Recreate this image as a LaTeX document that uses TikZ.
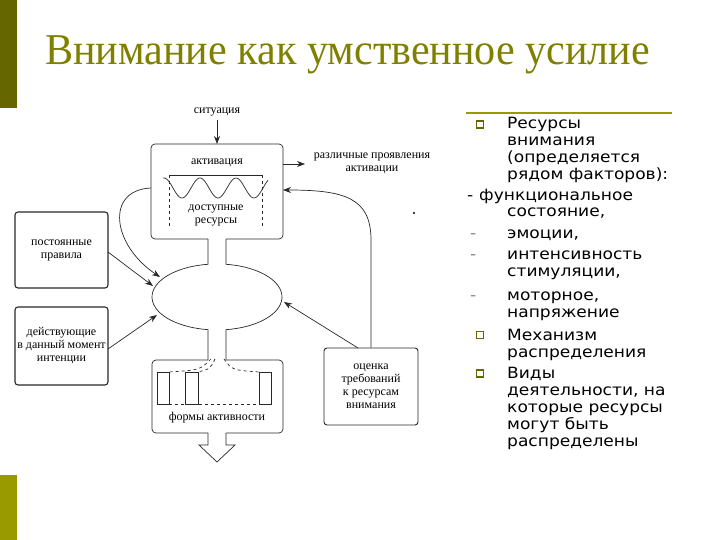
\documentclass[tikz,border=0pt]{standalone}
\usepackage{fontspec}
\setmainfont{Liberation Serif}
\newfontfamily\rfont[FakeStretch=1.1]{DejaVu Sans}
\usetikzlibrary{arrows.meta}
\definecolor{olivedark}{RGB}{102,102,0}
\definecolor{olivelight}{RGB}{153,153,0}
\definecolor{titlecol}{RGB}{128,128,0}
\definecolor{linegray}{RGB}{40,40,40}
\tikzset{
  lbl/.style={font=\fontsize{12}{13}\selectfont, align=center, inner sep=0pt},
  ln/.style={draw=linegray, line width=0.7pt},
  lbox/.style={draw=linegray, line width=1.1pt, rounded corners=3pt},
  arr/.style={draw=linegray, line width=0.7pt, -{Stealth[length=8pt,width=6pt]}},
  rt/.style={font=\rfont\fontsize{15.5}{17}\selectfont, anchor=base west, inner sep=0pt},
  bul/.style={draw=olivedark, line width=1.3pt},
  dsh/.style={font=\rfont\fontsize{15.5}{17}\selectfont, anchor=base west, inner sep=0pt, text=gray},
}
\begin{document}
\begin{tikzpicture}[x=1pt,y=-1pt]
\useasboundingbox (0,0) rectangle (720,540);
% side bars
\fill[olivedark] (0,0) rectangle (17,108);
\fill[olivelight] (0,475) rectangle (17,540);
% title
\node[anchor=base west, inner sep=0pt, text=titlecol, font=\fontsize{44}{44}\selectfont] (title) at (45,65) {\scalebox{0.957}[1]{Внимание как умственное усилие}};

% ---- diagram ----
\node[lbl] (sit) at (217,112) {ситуация};
% top box with neck gap
\draw[ln, rounded corners=4pt] (208,239) -- (151,239) -- (151,144) -- (283,144) -- (283,239) -- (226,239);
\coordinate (topbox) at (217,144);
\coordinate (topboxR) at (283,164);
\coordinate (topboxR2) at (283,190);
\coordinate (topboxL) at (151,188);
\draw[arr] (sit) ++(0,8) -- (topbox);
\node[lbl] (akt) at (217,163) {активация};
\draw[ln] (169,175) -- (262,175);
\draw[ln, dashed] (169,175) -- (169,228);
\draw[ln, dashed] (262,175) -- (262,228);
\draw[ln, smooth] plot[domain=163:268, samples=90] (\x, {188-10*cos(10*(\x-164))});
\node[lbl] (res) at (216,215) {доступные\\ресурсы};

% ellipse with necks
\draw[ln] (208,239) -- (208,264.3) arc[start angle=97.96, end angle=262.04, x radius=65pt, y radius=33pt] -- (208,360);
\draw[ln] (226,239) -- (226,264.3) arc[start angle=82.04, end angle=-82.04, x radius=65pt, y radius=33pt] -- (226,360);
\coordinate (ellL1) at (160,277);
\coordinate (ellL2) at (153,286);
\coordinate (ellL3) at (157,315);
\coordinate (ellR) at (284,302);

% bottom box
\draw[ln, rounded corners=4pt] (208,360) -- (152,360) -- (152,433) -- (208,433);
\draw[ln, rounded corners=4pt] (226,360) -- (283,360) -- (283,433) -- (226,433);
\draw[ln] (208,433) -- (208,445) -- (199,445) -- (217,462) -- (235,445) -- (226,445) -- (226,433);
\draw[ln] (157,372) rectangle (169,404);
\draw[ln] (185,372) rectangle (198,404);
\draw[ln] (259,372) rectangle (271,404);
\draw[ln, dashed] (211,359) .. controls (200,370) .. (169,372);
\draw[ln, dashed] (215,359) .. controls (210,369) .. (198,372);
\draw[ln, dashed] (224,359) .. controls (232,370) .. (259,372);
\draw[ln, dashed] (169,404) -- (259,404);
\node[lbl] (formy) at (217,418) {формы активности};

% right labels
\node[lbl] (razl) at (372,163) {различные проявления\\активации};
\draw[arr] (topboxR) -- (305,164);

% assessment box
\node[lbl, draw=linegray, line width=0.9pt, rounded corners=3pt, minimum width=94pt, minimum height=77pt] (otsenka) at (371,386.5) {оценка\\требований\\к ресурсам\\внимания};
\draw[arr] (otsenka.north) -- (371,240) .. controls (371,198) and (345,190) .. (topboxR2);
\draw[arr] (358,348) -- (ellR);

% left boxes
\node[lbl, lbox, minimum width=93pt, minimum height=76pt] (post) at (61.5,250) {постоянные\\правила};
\node[lbl, lbox, minimum width=93pt, minimum height=78pt] (deist) at (61.5,346) {действующие\\в данный момент\\интенции};
\draw[arr] (108,252) -- (ellL2);
\draw[arr] (108,349) -- (ellL3);
\draw[arr] (topboxL) .. controls (105,190) and (112,245) .. (ellL1);

\fill (414,213) circle (1.2pt);

% ---- right text ----
\draw[olivelight, line width=2pt] (466,113) -- (672,113);
\draw[bul] (476.5,121) rectangle (483.5,128);
\draw[bul] (476.5,331.5) rectangle (483.5,338.5);
\draw[bul] (476.5,370) rectangle (483.5,377);
\node[rt] at (507,129) {Ресурсы};
\node[rt] at (507,146) {внимания};
\node[rt] at (507,163) {(определяется};
\node[rt] at (507,180) {рядом факторов):};
\node[rt] at (467,200.5) {-};
\node[rt] at (479,200.5) {функциональное};
\node[rt] at (507,217) {состояние,};
\node[dsh] at (470,238) {-};
\node[rt] at (507,238) {эмоции,};
\node[dsh] at (470,259.5) {-};
\node[rt] at (507,259.5) {интенсивность};
\node[rt] at (507,276.5) {стимуляции,};
\node[dsh] at (470,300) {-};
\node[rt] at (507,300) {моторное,};
\node[rt] at (507,317) {напряжение};
\node[rt] at (507,340) {Механизм};
\node[rt] at (507,357) {распределения};
\node[rt] at (507,378.5) {Виды};
\node[rt] at (507,395.5) {деятельности, на};
\node[rt] at (507,412.5) {которые ресурсы};
\node[rt] at (507,429.5) {могут быть};
\node[rt] at (507,446.5) {распределены};
\end{tikzpicture}
\end{document}
